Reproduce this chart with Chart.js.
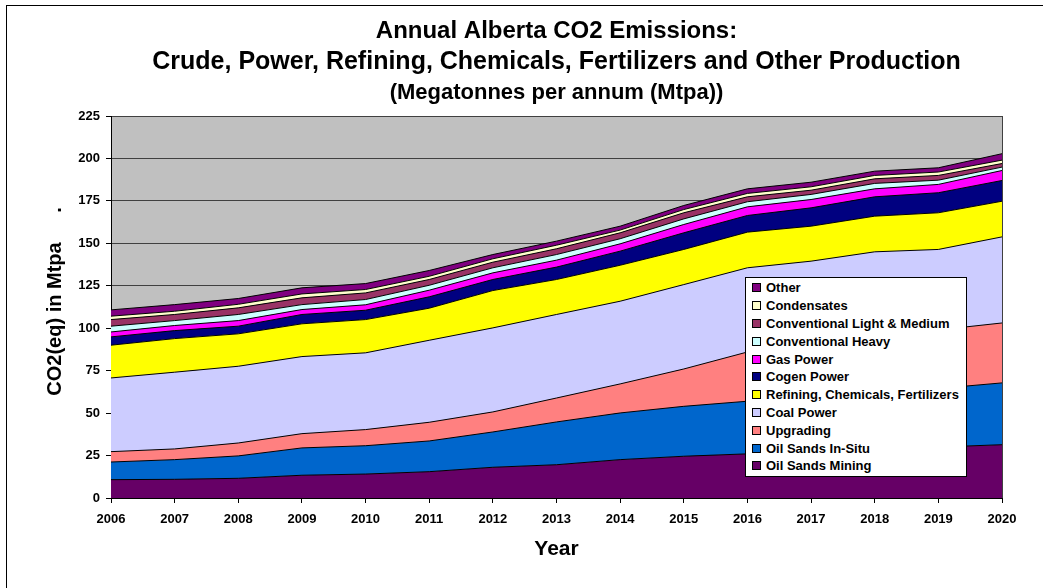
<!DOCTYPE html>
<html><head><meta charset="utf-8">
<script src="https://cdn.jsdelivr.net/npm/chart.js@4/dist/chart.umd.min.js"></script>
<style>
html,body{margin:0;padding:0;background:#fff;overflow:hidden;width:1043px;height:588px;}
#frame{position:absolute;left:6px;top:5px;width:1100px;height:700px;border:1px solid #000;}
#c{position:absolute;left:0;top:0;}
#legend{position:absolute;left:745px;top:277px;width:222px;height:200px;background:#fff;border:1px solid #000;box-sizing:border-box;padding-top:1px;font:bold 13px "Liberation Sans",Arial,sans-serif;color:#000;}
.item{height:17.8px;display:flex;align-items:center;white-space:nowrap;}
.sw{width:7px;height:7px;border:1px solid #000;margin-left:6px;margin-right:5px;flex:none;}
</style></head><body>
<div id="frame"></div>
<canvas id="c" width="1043" height="588"></canvas>
<div id="legend"></div>
<script>
const years = ['2006','2007','2008','2009','2010','2011','2012','2013','2014','2015','2016','2017','2018','2019','2020'];
const oilSandsMining  = [10.8, 11.0, 11.6, 13.4, 14.1, 15.5, 18.1, 19.6, 22.6, 24.6, 26.0, 27.5, 28.5, 30.0, 31.4];
const oilSandsInSitu  = [10.4, 11.6, 13.2, 16.1, 16.7, 18.1, 20.8, 25.2, 27.5, 29.4, 31.0, 32.0, 33.5, 34.5, 36.4];
const upgrading       = [6.1, 6.3, 7.6, 8.4, 9.5, 11.0, 11.8, 14.1, 17.1, 22.0, 29.0, 31.5, 34.0, 34.5, 35.3];
const coalPower       = [43.4, 45.2, 45.2, 45.4, 45.2, 48.3, 49.5, 49.2, 48.7, 49.7, 49.6, 48.5, 49.0, 47.4, 50.7];
const refiningChemFert= [19.3, 19.8, 19.1, 19.3, 19.6, 18.9, 22.0, 20.6, 21.2, 20.7, 21.0, 20.6, 21.0, 21.6, 21.0];
const cogenPower      = [4.9, 4.7, 4.5, 5.5, 5.5, 6.7, 6.5, 7.3, 8.3, 9.8, 9.8, 10.8, 11.4, 11.8, 12.2];
const gasPower        = [2.9, 3.0, 3.3, 2.9, 3.2, 3.9, 3.9, 4.1, 4.3, 4.9, 5.1, 4.9, 4.7, 4.9, 5.9];
const convHeavy       = [3.4, 2.9, 3.6, 2.9, 3.1, 2.9, 3.0, 3.3, 3.0, 3.3, 3.0, 3.0, 3.2, 2.5, 2.0];
const convLightMedium = [3.9, 3.6, 3.9, 4.0, 3.9, 3.4, 3.3, 3.4, 3.5, 3.6, 2.9, 2.5, 2.7, 2.8, 2.1];
const condensates     = [2.0, 1.9, 2.1, 2.3, 2.0, 1.9, 2.0, 2.1, 1.6, 1.9, 2.0, 2.0, 2.0, 2.0, 2.0];
const otherSources    = [3.7, 3.9, 3.4, 3.6, 3.5, 3.4, 2.5, 2.4, 2.3, 2.4, 2.7, 2.7, 2.5, 2.5, 3.8];

const seriesNames  = ['Oil Sands Mining','Oil Sands In-Situ','Upgrading','Coal Power','Refining, Chemicals, Fertilizers','Cogen Power','Gas Power','Conventional Heavy','Conventional Light & Medium','Condensates','Other'];
const seriesValues = [oilSandsMining, oilSandsInSitu, upgrading, coalPower, refiningChemFert, cogenPower, gasPower, convHeavy, convLightMedium, condensates, otherSources];
const seriesColors = ['#660066','#0066CC','#FF8080','#CCCCFF','#FFFF00','#000080','#FF00FF','#CCFFFF','#993366','#FFFFCC','#800080'];

const titleLines = ['Annual Alberta CO2 Emissions:','Crude, Power, Refining, Chemicals, Fertilizers and Other Production','(Megatonnes per annum (Mtpa))'];
const yTitle = 'CO2(eq) in Mtpa';
const xTitle = 'Year';
const FONT = '"Liberation Sans", Arial, sans-serif';

const datasets = seriesNames.map((n,i)=>({
  label:n, data:seriesValues[i], backgroundColor:seriesColors[i], borderColor:'#000', borderWidth:1,
  fill: i===0 ? 'origin' : '-1', pointRadius:0, tension:0
}));

const decor = {
  id:'decor',
  beforeDraw(chart){
    const {ctx, chartArea:a} = chart;
    ctx.save(); ctx.fillStyle='#C0C0C0'; ctx.fillRect(a.left,a.top,a.right-a.left,a.bottom-a.top); ctx.restore();
  },
  afterDraw(chart){
    const {ctx, chartArea:a} = chart;
    ctx.save();
    ctx.strokeStyle='#404040'; ctx.lineWidth=1;
    ctx.beginPath(); ctx.moveTo(Math.round(a.right)+0.5,a.top); ctx.lineTo(Math.round(a.right)+0.5,a.bottom); ctx.stroke();
    ctx.fillStyle='#000'; ctx.textAlign='center'; ctx.textBaseline='middle';
    const cx=(a.left+a.right)/2;
    const ty=[31,62,93], ts=[24,25,22];
    titleLines.forEach((t,i)=>{ ctx.font='bold '+ts[i]+'px '+FONT; ctx.fillText(t,cx,ty[i]); });
    ctx.font='bold 21px '+FONT;
    ctx.fillText(xTitle,cx,549);
    ctx.translate(55,319); ctx.rotate(-Math.PI/2);
    ctx.font='bold 20px '+FONT;
    ctx.fillText(yTitle,0,0);
    ctx.fillText('.',109,0);
    ctx.restore();
  }
};

new Chart(document.getElementById('c'),{
  type:'line',
  data:{labels:years, datasets},
  options:{
    responsive:false, animation:false, devicePixelRatio:1,
    layout:{padding:{left:0,right:41,top:116,bottom:0}},
    plugins:{legend:{display:false},title:{display:false},tooltip:{enabled:false}},
    elements:{line:{borderJoinStyle:'miter'}},
    scales:{
      x:{offset:false,
        grid:{display:true,drawOnChartArea:false,drawTicks:true,tickLength:5,tickColor:'#000',color:'#000'},
        border:{display:true,color:'#000',width:1},
        ticks:{color:'#000',font:{family:FONT,weight:'bold',size:13},padding:9,maxRotation:0,autoSkip:false},
        afterFit(s){s.height=90;}
      },
      y:{stacked:true,min:0,max:225,
        grid:{color:'#404040',tickColor:'#000',tickLength:5},
        border:{display:true,color:'#000',width:1},
        ticks:{stepSize:25,color:'#000',font:{family:FONT,weight:'bold',size:13},padding:6},
        afterFit(s){s.width=111;}
      }
    }
  },
  plugins:[decor]
});

const lg=document.getElementById('legend');
for(let i=seriesNames.length-1;i>=0;i--){
  const d=document.createElement('div'); d.className='item';
  const s=document.createElement('span'); s.className='sw'; s.style.background=seriesColors[i];
  const t=document.createElement('span'); t.textContent=seriesNames[i];
  d.appendChild(s); d.appendChild(t); lg.appendChild(d);
}
</script>
</body></html>
